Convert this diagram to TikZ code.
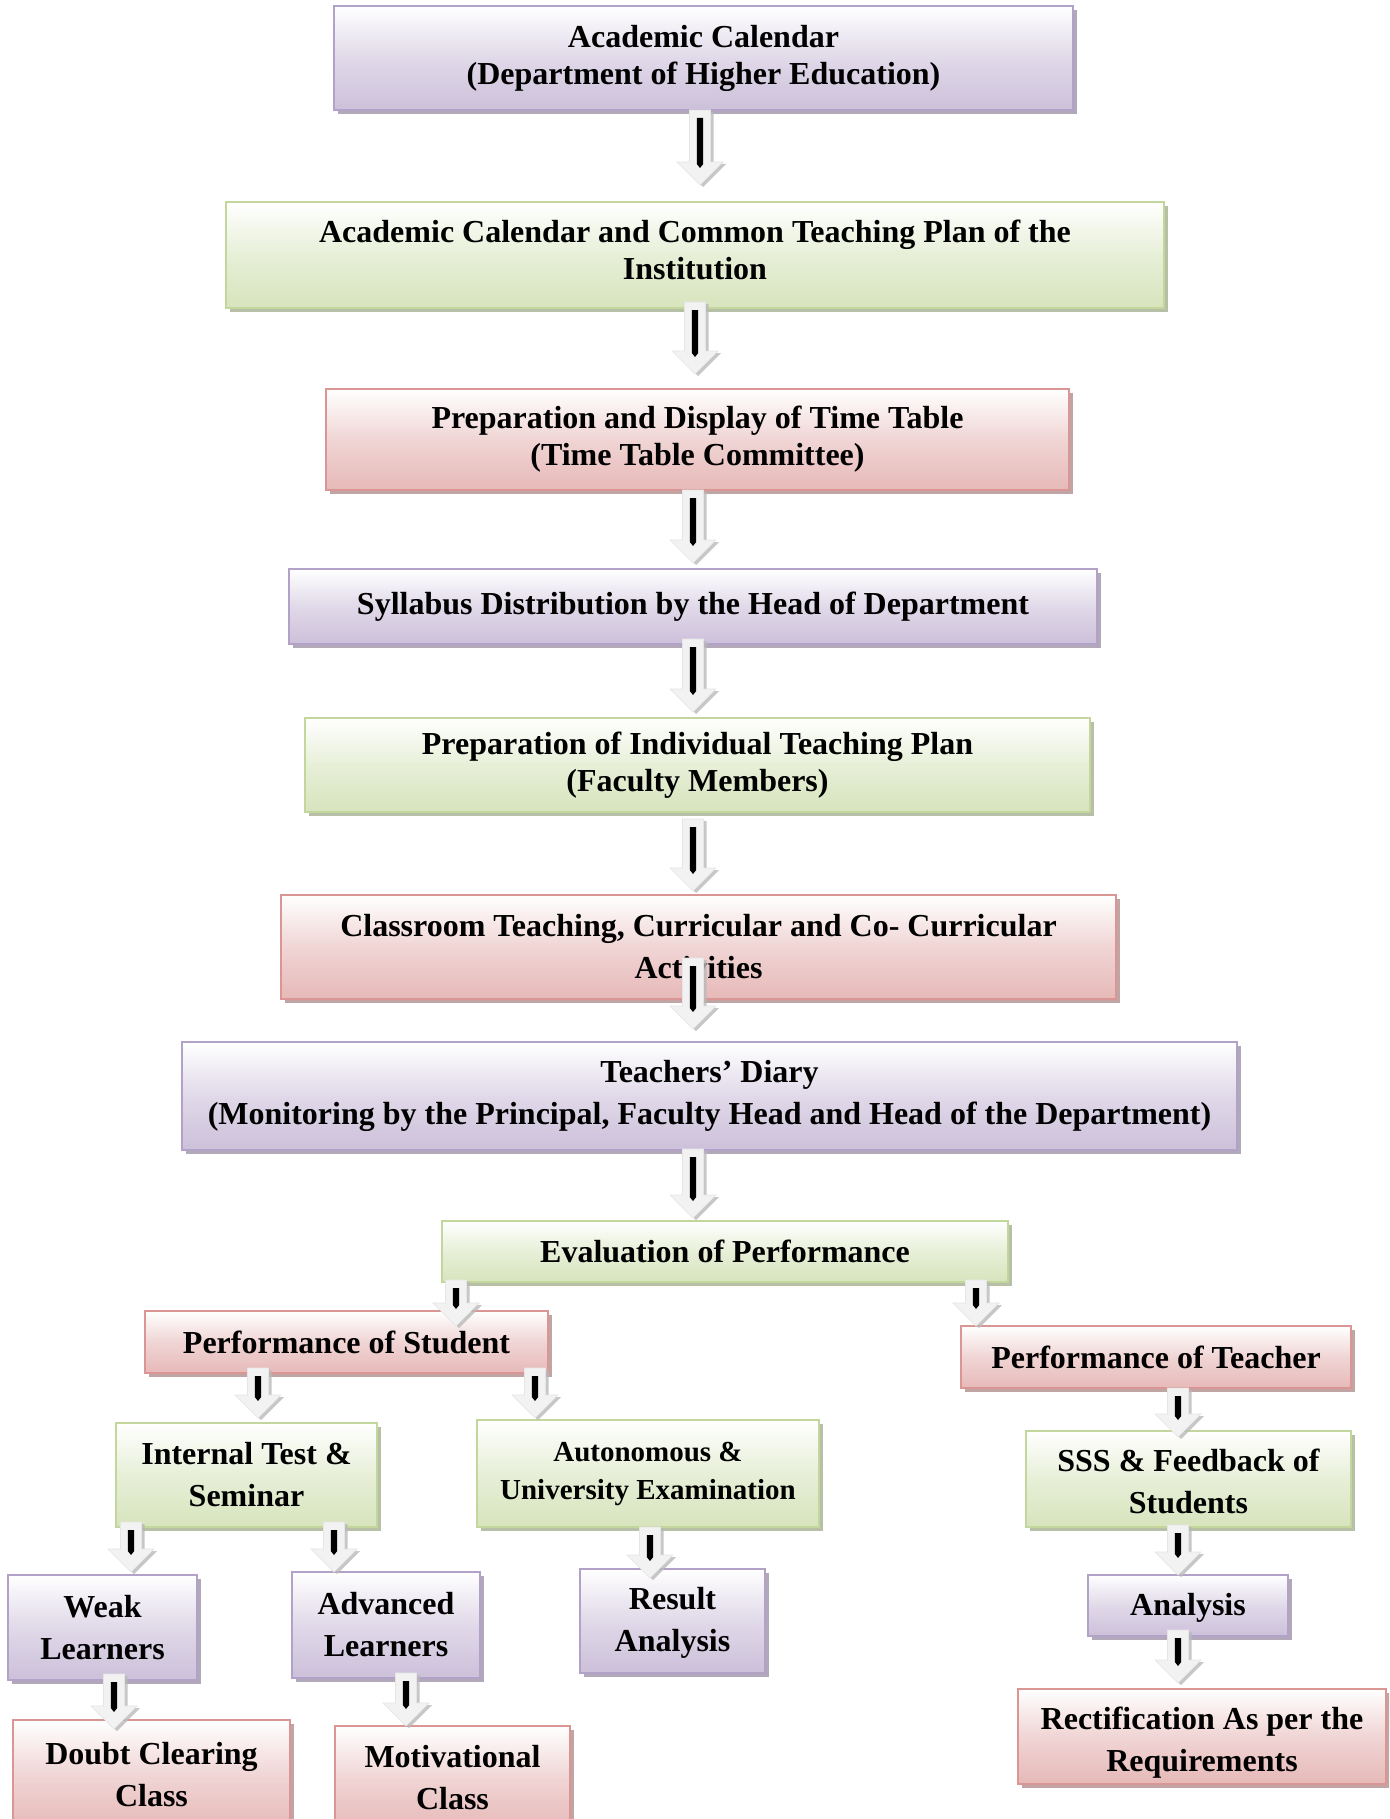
\documentclass[tikz,border=0pt]{standalone}
\usepackage{fontspec}
\setmainfont{Liberation Serif}
\usetikzlibrary{shadows,calc}
\definecolor{pbot}{HTML}{CCC0DA}
\definecolor{pbord}{HTML}{B3A2C7}
\definecolor{gbot}{HTML}{D7E4BD}
\definecolor{gbord}{HTML}{C3D69B}
\definecolor{rbot}{HTML}{E6B9B8}
\definecolor{rbord}{HTML}{D99694}
\definecolor{arrfill}{HTML}{F2F2F2}
\tikzset{
  bx/.style={rectangle, inner sep=0pt, align=center, line width=1.2pt,
    font=\bfseries\fontsize{16}{21}\selectfont},
  tight/.style={font=\bfseries\fontsize{16}{18.5}\selectfont},
  txt/.style={rectangle, inner sep=0pt, align=center,
    font=\bfseries\fontsize{16}{21}\selectfont},
  pbx/.style={bx, draw=pbord, top color=white, bottom color=pbot, middle color=pbot!60!white,
    drop shadow={shadow xshift=2pt, shadow yshift=-2pt, fill=pbord!70!black, opacity=.6}},
  gbx/.style={bx, draw=gbord, top color=white, bottom color=gbot, middle color=gbot!60!white,
    drop shadow={shadow xshift=2pt, shadow yshift=-2pt, fill=gbord!70!black, opacity=.6}},
  rbx/.style={bx, draw=rbord, top color=white, bottom color=rbot, middle color=rbot!60!white,
    drop shadow={shadow xshift=2pt, shadow yshift=-2pt, fill=rbord!70!black, opacity=.6}},
  arrowbody/.style={fill=arrfill, draw=gray!20, line width=0.3pt,
    drop shadow={shadow xshift=1.5pt, shadow yshift=-1pt, fill=gray!55, opacity=.8}},
  arrowline/.style={fill=black}
}
\newcommand\bx[7]{%
  \node[#6, minimum width={(#4-#2)*0.5pt}, minimum height={(#5-#3)*0.5pt}]
    (#1) at ({(#2+#4)/2},{(#3+#5)/2}) {#7};}
% box with its text moved down by #8 px; #9 = text style
\newcommand\bxs[9]{%
  \node[#6, minimum width={(#4-#2)*0.5pt}, minimum height={(#5-#3)*0.5pt}]
    (#1) at ({(#2+#4)/2},{(#3+#5)/2}) {};
  \node[txt, #9] (#1-t) at ($(#1.center)+(0,#8)$) {#7};}
\newcommand\blockarrow[2]{%
  \path[arrowbody] let \p1=(#1),\p2=(#2) in
    (\x1-5.25pt,\y1) -- (\x1+5.25pt,\y1) -- (\x1+5.25pt,\y2+11.5pt) -- (\x1+11.5pt,\y2+11.5pt)
    -- (\x1,\y2) -- (\x1-11.5pt,\y2+11.5pt) -- (\x1-5.25pt,\y2+11.5pt) -- cycle;
  \path[arrowline] let \p1=(#1),\p2=(#2) in
    (\x1-1.6pt,\y1-4pt) -- (\x1+1.6pt,\y1-4pt) -- (\x1+1.6pt,\y2+10.5pt)
    -- (\x1,\y2+8.5pt) -- (\x1-1.6pt,\y2+10.5pt) -- cycle;}
\newcommand\arr[4]{%
  \coordinate (#1s) at (#2,#3);
  \coordinate (#1e) at (#2,#4);
  \blockarrow{#1s}{#1e}}
\begin{document}
\begin{tikzpicture}[x=0.5pt,y=-0.5pt]
\useasboundingbox (0,0) rectangle (1389,1819);
\clip (0,0) rectangle (1389,1819);
\fill[white] (0,0) rectangle (1389,1819);
% boxes
\bx{b1}{334}{6}{1073}{110}{pbx,tight}{Academic Calendar\\(Department of Higher Education)}
\bxs{b2}{226}{202}{1164}{308}{gbx}{Academic Calendar and Common Teaching Plan of the\\Institution}{-5}{tight}
\bx{b3}{326}{389}{1069}{490}{rbx,tight}{Preparation and Display of Time Table\\(Time Table Committee)}
\bx{b4}{289}{569}{1097}{644}{pbx}{Syllabus Distribution by the Head of Department}
\bx{b5}{305}{718}{1090}{812}{gbx,tight}{Preparation of Individual Teaching Plan\\(Faculty Members)}
\bx{b6}{281}{895}{1116}{999}{rbx}{Classroom Teaching, Curricular and Co- Curricular\\Activities}
\bx{b7}{182}{1042}{1237}{1150}{pbx}{Teachers’ Diary\\(Monitoring by the Principal, Faculty Head and Head of the Department)}
\bx{b8}{442}{1221}{1008}{1282}{gbx}{Evaluation of Performance}
\bx{b9}{145}{1311}{548}{1373}{rbx}{Performance of Student}
\bx{b10}{961}{1326}{1351}{1388}{rbx}{Performance of Teacher}
\bx{b11}{116}{1423}{377}{1527}{gbx}{Internal Test \&\\Seminar}
\bx{b12}{477}{1420}{819}{1527}{gbx,font=\bfseries\fontsize{14.5}{19}\selectfont}{Autonomous \&\\University Examination}
\bxs{b13}{1026}{1431}{1351}{1527}{gbx}{SSS \& Feedback of\\Students}{2}{}
\bx{b14}{8}{1575}{197}{1680}{pbx}{Weak\\Learners}
\bx{b15}{292}{1572}{480}{1678}{pbx}{Advanced\\Learners}
\bxs{b16}{580}{1569}{765}{1673}{pbx}{Result\\Analysis}{2}{}
\bxs{b17}{1088}{1575}{1288}{1636}{pbx}{Analysis}{2}{}
\bx{b18}{13}{1720}{290}{1830}{rbx}{Doubt Clearing\\Class}
\bx{b19}{335}{1726}{570}{1830}{rbx}{Motivational\\Class}
\bxs{b20}{1018}{1689}{1386}{1784}{rbx}{Rectification As per the\\Requirements}{6}{}
% arrows
\arr{a1}{700}{110}{185}
\arr{a2}{695}{302}{374}
\arr{a3}{693}{490}{563}
\arr{a4}{693}{639}{712}
\arr{a5}{693}{819}{891}
\arr{a6}{693}{958}{1029}
\arr{a7}{693}{1149}{1218}
\arr{a8}{456}{1280}{1326}
\arr{a9}{976}{1280}{1326}
\arr{a10}{258}{1368}{1418}
\arr{a11}{535}{1368}{1418}
\arr{a12}{1178}{1388}{1437}
\arr{a13}{131}{1522}{1572}
\arr{a14}{334}{1522}{1572}
\arr{a15}{650}{1527}{1578}
\arr{a16}{1178}{1525}{1575}
\arr{a17}{114}{1674}{1729}
\arr{a18}{406}{1673}{1726}
\arr{a19}{1178}{1630}{1683}
\end{tikzpicture}
\end{document}
